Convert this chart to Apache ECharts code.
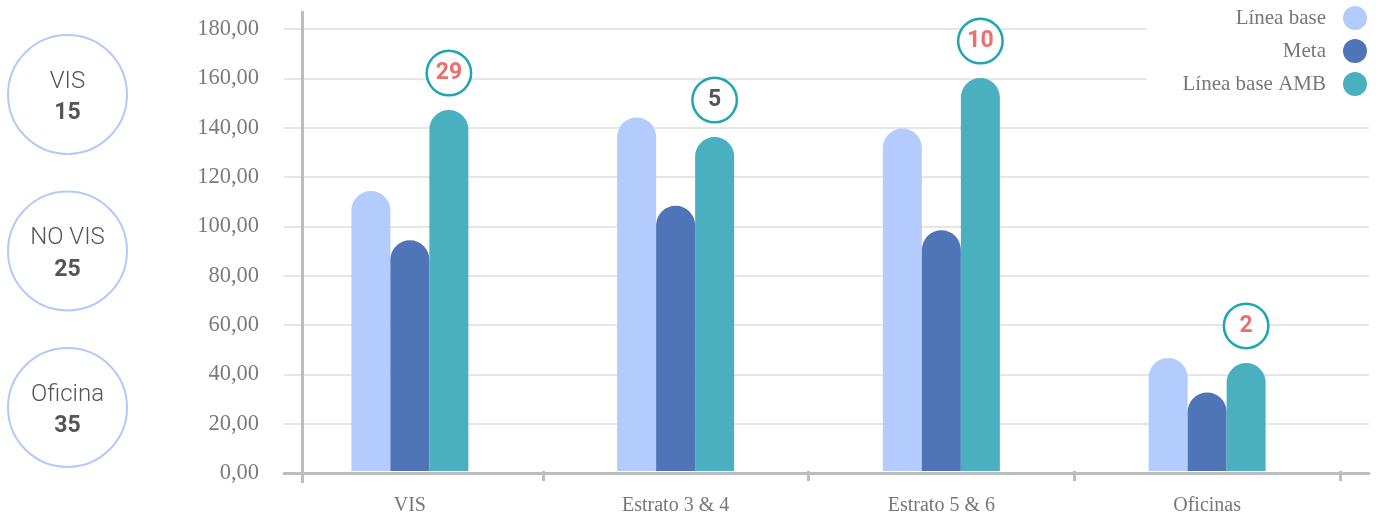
<!DOCTYPE html>
<html>
<head>
<meta charset="utf-8">
<script src="https://cdn.jsdelivr.net/npm/echarts@6/dist/echarts.min.js"></script>
<style>html,body{margin:0;padding:0;background:#fff}#c{width:1376px;height:516px}</style>
</head>
<body>
<div id="c"></div>
<script>
const categories = ['VIS', 'Estrato 3 & 4', 'Estrato 5 & 6', 'Oficinas'];
const seriesNames = ['Línea base', 'Meta', 'Línea base AMB'];
const lineaBase = [114, 144, 139.5, 46];
const meta = [94, 108, 98, 32];
const lineaBaseAMB = [147, 136, 160, 44];
const circleValues = [29, 5, 10, 2];
const circleHighlight = [true, false, true, true];
const yTicks = [0, 20, 40, 60, 80, 100, 120, 140, 160, 180];
const sideLabels = ['VIS', 'NO VIS', 'Oficina'];
const sideValues = [15, 25, 35];

const colors = ['#b4cbfd', '#4f74b8', '#4aafbe'];
const serif = '"Liberation Serif", "DejaVu Serif", serif';
const sans = 'Roboto, "Noto Sans", sans-serif';

const chart = echarts.init(document.getElementById('c'), null, {renderer: 'canvas'});

const sideGraphics = [];
sideLabels.forEach((lab, i) => {
  const cy = 94.5 + i * 156.5;
  sideGraphics.push({
    type: 'circle', shape: {cx: 67.5, cy: cy, r: 59.5},
    style: {fill: '#fff', stroke: '#b4c9fb', lineWidth: 2}
  });
  sideGraphics.push({
    type: 'text', x: 67.5, y: cy - 13,
    style: {text: lab, fill: '#555', font: '300 24px ' + sans, align: 'center', verticalAlign: 'middle'}
  });
  sideGraphics.push({
    type: 'text', x: 67.5, y: cy + 19,
    style: {text: String(sideValues[i]), fill: '#555', font: 'bold 23px ' + sans, align: 'center', verticalAlign: 'middle'}
  });
});
sideGraphics.push({
  type: 'line', shape: {x1: 302.5, y1: 11, x2: 302.5, y2: 483},
  style: {stroke: '#bdbdbd', lineWidth: 3}, z: 10
});

const barBase = {
  type: 'bar', xAxisIndex: 0, yAxisIndex: 0, barWidth: 39, barGap: '0%',
  itemStyle: {borderRadius: [20, 20, 0, 0]}
};

chart.setOption({
  animation: false,
  color: colors,
  graphic: sideGraphics,
  legend: {
    data: seriesNames, orient: 'vertical', right: 0, top: 0,
    padding: [6, 9, 8, 36], itemGap: 9, itemWidth: 24, itemHeight: 24,
    icon: 'circle', align: 'right', backgroundColor: '#fff', z: 20,
    textStyle: {fontFamily: serif, fontSize: 21, color: '#777', padding: [0, 12, 0, 0]}
  },
  grid: [
    {left: 277, right: 36, top: 29, bottom: 43},
    {left: 284, right: 7, top: 29, bottom: 43}
  ],
  xAxis: [
    {
      type: 'category', gridIndex: 0, data: categories,
      axisLine: {show: false},
      axisTick: {show: true, length: 10, lineStyle: {color: '#bdbdbd', width: 3},
        interval: function (idx) { return idx !== 0; }},
      axisLabel: {fontFamily: serif, fontSize: 20, color: '#777', margin: 25},
      splitLine: {show: false}
    },
    {
      type: 'value', gridIndex: 1, min: 0, max: 1, z: 5,
      axisLine: {show: true, onZero: false, lineStyle: {color: '#bdbdbd', width: 3}},
      axisTick: {show: false}, axisLabel: {show: false}, splitLine: {show: false}
    }
  ],
  yAxis: [
    {type: 'value', gridIndex: 0, min: yTicks[0], max: yTicks[yTicks.length - 1], show: false},
    {
      type: 'value', gridIndex: 1, min: yTicks[0], max: yTicks[yTicks.length - 1],
      interval: yTicks[1] - yTicks[0],
      axisLine: {show: false}, axisTick: {show: false},
      axisLabel: {fontFamily: serif, fontSize: 22.5, color: '#7a7a7a', margin: 25,
        formatter: v => v.toFixed(2).replace('.', ',')},
      splitLine: {lineStyle: {color: '#dedede', width: 1.5}}
    }
  ],
  series: [
    Object.assign({}, barBase, {name: seriesNames[0], data: lineaBase}),
    Object.assign({}, barBase, {name: seriesNames[1], data: meta}),
    Object.assign({}, barBase, {
      name: seriesNames[2], data: lineaBaseAMB,
      label: {
        show: true, position: 'top', distance: 37,
        width: 42, height: 42, lineHeight: 42, align: 'center', verticalAlign: 'middle',
        backgroundColor: '#fff', borderColor: '#1fa6b2', borderWidth: 2.5, borderRadius: 24,
        formatter: p => (circleHighlight[p.dataIndex] ? '{r|' : '{g|') + circleValues[p.dataIndex] + '}',
        rich: {
          r: {color: '#ef6e6b', fontFamily: sans, fontWeight: 'bold', fontSize: 23, align: 'center'},
          g: {color: '#555', fontFamily: sans, fontWeight: 'bold', fontSize: 23, align: 'center'}
        }
      }
    })
  ]
});
</script>
</body>
</html>
